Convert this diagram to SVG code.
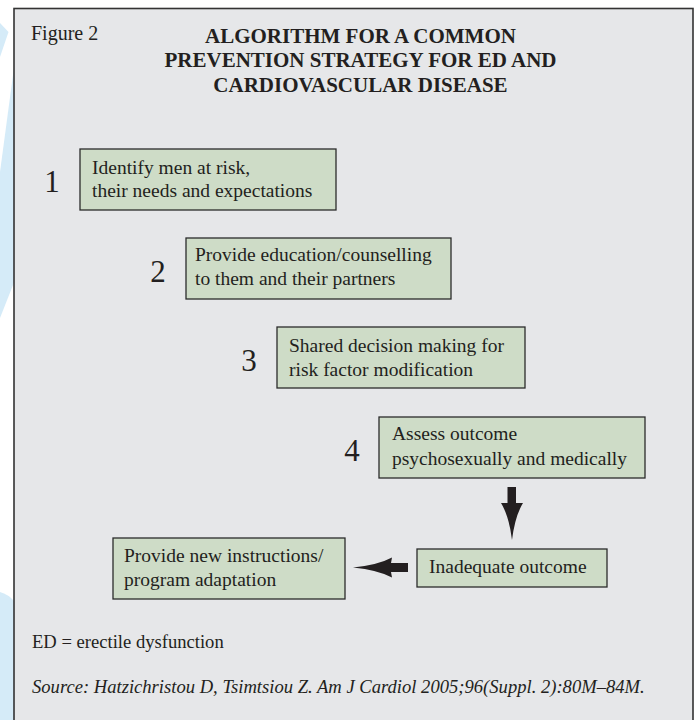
<svg xmlns="http://www.w3.org/2000/svg" width="699" height="720" viewBox="0 0 699 720">
<style>
.t{font-family:"Liberation Serif","Times New Roman",serif;fill:#231f20}
.body{font-size:19.5px}
.num{font-size:31px}
.title{font-size:21px;font-weight:bold}
.foot{font-size:18.6px}
.box{fill:#cedcc7;stroke:#2b2b2b;stroke-width:1.3}
.arr{fill:#231f20}
</style>
<rect x="0" y="0" width="699" height="720" fill="#ffffff"/>
<g id="background">
<polygon points="0,23 8.5,32 0,57" fill="#d5ebf8"/>
<polygon points="15,60 0,172 0,318 15,280" fill="#d5ebf8"/>
<path d="M0,592 Q8,594 15,602 L15,720 L0,720 Z" fill="#d5ebf8"/>
</g>
<g id="panel">
<rect x="14" y="8.5" width="679" height="720" fill="#e6e7e9" stroke="#333333" stroke-width="1.6"/>
<text class="t" x="31" y="40" font-size="20">Figure 2</text>
<text class="t title" text-anchor="middle"><tspan x="360.5" y="43">ALGORITHM FOR A COMMON</tspan><tspan x="360.5" y="67">PREVENTION STRATEGY FOR ED AND</tspan><tspan x="360.5" y="92">CARDIOVASCULAR DISEASE</tspan></text>
</g>
<g id="step1">
<text class="t num" x="52" y="192" text-anchor="middle">1</text>
<rect class="box" x="80" y="149" width="256" height="61"/>
<text class="t body"><tspan x="92" y="174">Identify men at risk,</tspan><tspan x="92" y="197">their needs and expectations</tspan></text>
</g>
<g id="step2">
<text class="t num" x="158" y="282" text-anchor="middle">2</text>
<rect class="box" x="186" y="238" width="265" height="61"/>
<text class="t body"><tspan x="195" y="261">Provide education/counselling</tspan><tspan x="195" y="285">to them and their partners</tspan></text>
</g>
<g id="step3">
<text class="t num" x="249" y="371" text-anchor="middle">3</text>
<rect class="box" x="277" y="327" width="248" height="61"/>
<text class="t body"><tspan x="289" y="352">Shared decision making for</tspan><tspan x="289" y="376">risk factor modification</tspan></text>
</g>
<g id="step4">
<text class="t num" x="352" y="461" text-anchor="middle">4</text>
<rect class="box" x="379" y="417" width="266" height="61"/>
<text class="t body"><tspan x="392" y="440">Assess outcome</tspan><tspan x="392" y="465">psychosexually and medically</tspan></text>
</g>
<g id="inadequate">
<rect class="box" x="417" y="549" width="190" height="38"/>
<text class="t body" x="429" y="573">Inadequate outcome</text>
</g>
<g id="newinstructions">
<rect class="box" x="113" y="538" width="232" height="61"/>
<text class="t body"><tspan x="124" y="562">Provide new instructions/</tspan><tspan x="124" y="586">program adaptation</tspan></text>
</g>
<g id="connectors">
<path class="arr" d="M507.5,487 L516,487 L516,503 L523,503 Q515,516 512,540 Q509,516 501,503 L507.5,503 Z"/>
<path class="arr" d="M408,563 L408,572 L391,572 L392,577.5 Q378,570 353,567.5 Q378,565 392,557.5 L391,563 Z"/>
</g>
<g id="notes">
<text class="t foot" x="32" y="648">ED = erectile dysfunction</text>
<text class="t foot" x="32" y="693" font-style="italic">Source: Hatzichristou D, Tsimtsiou Z. Am J Cardiol 2005;96(Suppl. 2):80M–84M.</text>
</g>
</svg>
